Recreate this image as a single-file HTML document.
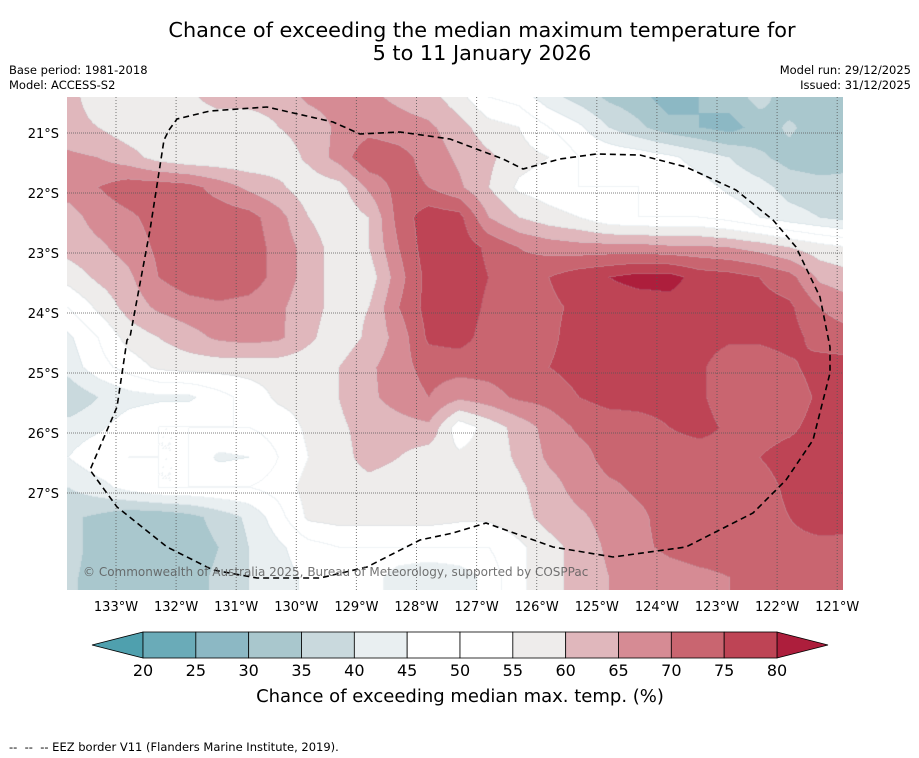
<!DOCTYPE html>
<html><head><meta charset="utf-8">
<style>
body{margin:0;background:#fff;width:919px;height:758px;overflow:hidden;position:relative;font-family:"DejaVu Sans","Liberation Sans",sans-serif;}
.t{position:absolute;white-space:nowrap;color:#000;}
</style></head><body>
<div class="t" style="left:0;width:964px;top:19px;text-align:center;font-size:20.8px;line-height:23px;">Chance of exceeding the median maximum temperature for<br>5 to 11 January 2026</div>
<div class="t" style="left:9px;top:63px;font-size:11.5px;line-height:15px;">Base period: 1981-2018<br>Model: ACCESS-S2</div>
<div class="t" style="right:8px;top:63px;font-size:11.5px;line-height:15px;text-align:right;">Model run: 29/12/2025<br>Issued: 31/12/2025</div>
<canvas id="map" width="776" height="493" style="position:absolute;left:67px;top:97px;"></canvas>
<svg id="ov" width="919" height="758" style="position:absolute;left:0;top:0;"></svg>
<div class="t" style="left:83px;top:565px;font-size:12px;color:rgba(90,90,90,0.85);">© Commonwealth of Australia 2025, Bureau of Meteorology, supported by COSPPac</div>
<div class="t" style="left:0;width:920px;top:686px;text-align:center;font-size:18px;">Chance of exceeding median max. temp. (%)</div>
<div class="t" style="left:9px;top:740px;font-size:11.5px;">--&nbsp; --&nbsp; -- EEZ border V11 (Flanders Marine Institute, 2019).</div>
<script>
const lons=[-133.8,-133.3,-132.8,-132.3,-131.8,-131.3,-130.8,-130.3,-129.8,-129.3,-128.8,-128.3,-127.8,-127.3,-126.8,-126.3,-125.8,-125.3,-124.8,-124.3,-123.8,-123.3,-122.8,-122.3,-121.8,-121.3,-120.8];
const lats=[-20.4,-20.9,-21.4,-21.9,-22.4,-22.9,-23.4,-23.9,-24.4,-24.9,-25.4,-25.9,-26.4,-26.9,-27.4,-27.9,-28.4,-28.9];
const values=[
[62,57,57,57,59,62,62,62,66,67,66,64,62,57,50,48,42,38,34,32,27,30,32,37,32,32,32],
[62,60,57,57,57,57,57,60,62,66,68,67,66,62,57,55,50,46,40,36,32,30,28,32,36,32,32],
[66,65,62,58,56,56,56,57,61,67,74,72,68,64,61,57,55,50,49,48,46,43,40,36,33,32,33],
[67,70,73,73,72,68,64,61,57,58,66,72,70,66,60,54,52,50,50,50,49,47,44,42,38,37,37],
[63,67,69,72,73,73,72,67,60,56,60,72,78,77,65,60,57,55,51,50,50,50,48,45,42,40,38],
[62,64,67,71,73,74,73,68,63,57,60,70,78,78,74,70,68,67,67,67,66,66,65,63,60,57,55],
[57,61,64,70,73,74,73,68,63,57,57,68,77,78,75,72,75,78,80,82,82,78,77,75,72,64,62],
[50,56,62,66,68,69,68,66,62,58,60,70,77,78,74,71,74,76,77,77,78,77,77,77,76,70,67],
[44,50,57,60,63,66,67,66,61,57,61,67,76,77,73,72,74,77,79,80,77,77,76,76,77,73,72],
[42,48,52,56,57,57,57,57,57,60,64,68,72,72,72,73,75,77,77,77,77,76,72,72,74,77,77],
[36,40,43,44,44,48,52,56,57,60,64,67,70,66,68,71,72,75,77,77,77,76,72,71,72,76,77],
[42,44,48,50,50,50,50,52,56,59,62,63,64,52,57,62,67,71,72,73,75,77,74,73,74,77,77],
[45,49,50,50,50,44,45,50,55,58,62,60,57,56,57,61,66,68,72,72,72,72,73,75,77,77,77],
[40,43,47,50,50,50,50,52,57,57,58,57,57,56,56,59,63,67,69,71,72,72,72,73,76,79,80],
[36,34,31,31,33,37,41,48,56,57,57,57,57,56,56,58,62,64,67,69,72,72,72,73,75,80,79],
[37,33,30,30,32,35,40,44,48,50,50,50,50,50,50,54,58,62,66,69,71,72,72,72,72,72,72],
[36,33,31,31,33,36,40,43,46,50,48,42,40,42,47,54,58,62,65,67,68,69,70,72,72,70,72],
[36,33,31,31,33,36,40,43,46,50,48,42,40,42,47,54,58,62,65,67,68,69,70,72,72,70,72]];
const levels=[20,25,30,35,40,45,50,55,60,65,70,75,80];
const bandColors=['#4fa0ae','#6aabb8','#8cb8c4','#a9c7cd','#c9d9dd','#e9eff1','#ffffff','#ffffff','#eeeceb','#e0b7bc','#d68b94','#c96570','#be4455','#ad1e3c'];
const lonTicks=[-133,-132,-131,-130,-129,-128,-127,-126,-125,-124,-123,-122,-121];
const latTicks=[-21,-22,-23,-24,-25,-26,-27];
const eezPath=[[169,130],[177,119],[210,111],[267,107],[333,122],[360,134],[400,132],[450,139],[503,159],[523,169],[560,159],[596,154],[640,155],[686,167],[736,190],[773,220],[796,247],[820,297],[830,347],[830,373],[813,440],[786,480],[753,513],[686,547],[613,557],[553,547],[486,523],[453,533],[420,540],[367,567],[320,578],[257,578],[213,570],[167,547],[117,507],[90,470],[117,407],[127,340],[130,337],[150,230],[164,140],[169,130]];

function xOf(lon){return 116+(lon+133)*60.1;}
function yOf(lat){return 133+(-lat-21)*60;}
function lonOf(x){return (x-116)/60.1-133;}
function latOf(y){return -((y-133)/60+21);}
function band(v){let b=0;for(let i=0;i<levels.length;i++){if(v>=levels[i])b=i+1;}return b;}
function sample(lon,lat){
  let fi=(lon-lons[0])/(lons[1]-lons[0]);let fj=(lat-lats[0])/(lats[1]-lats[0]);
  fi=Math.max(0,Math.min(lons.length-1.001,fi));fj=Math.max(0,Math.min(lats.length-1.001,fj));
  const i=Math.floor(fi),j=Math.floor(fj),a=fi-i,b=fj-j;
  return values[j][i]*(1-a)*(1-b)+values[j][i+1]*a*(1-b)+values[j+1][i]*(1-a)*b+values[j+1][i+1]*a*b;
}
function hex(h){return [parseInt(h.substr(1,2),16),parseInt(h.substr(3,2),16),parseInt(h.substr(5,2),16)];}
const rgb=bandColors.map(hex);
const cv=document.getElementById('map');const ctx=cv.getContext('2d');
const W=cv.width,H=cv.height;const img=ctx.createImageData(W,H);
const bands=new Int8Array(W*H);
for(let py=0;py<H;py++){for(let px=0;px<W;px++){bands[py*W+px]=band(sample(lonOf(px+67),latOf(py+97)));}}
for(let py=0;py<H;py++){for(let px=0;px<W;px++){
  const b=bands[py*W+px];let c=rgb[b];
  const r=px<W-1?bands[py*W+px+1]:b,d=py<H-1?bands[(py+1)*W+px]:b;
  let edge=(r!==b||d!==b);
  const k=(py*W+px)*4;
  if(edge){img.data[k]=c[0]*0.8+36;img.data[k+1]=c[1]*0.8+40;img.data[k+2]=c[2]*0.8+42;}
  else{img.data[k]=c[0];img.data[k+1]=c[1];img.data[k+2]=c[2];}
  img.data[k+3]=255;
}}
ctx.putImageData(img,0,0);

const NS='http://www.w3.org/2000/svg';const ov=document.getElementById('ov');
function mk(tag,attrs,parent){const e=document.createElementNS(NS,tag);for(const k in attrs)e.setAttribute(k,attrs[k]);(parent||ov).appendChild(e);return e;}
lonTicks.forEach(function(lon){
  const x=xOf(lon);
  const l=mk('line',{x1:x,y1:97,x2:x,y2:590,stroke:'#555','stroke-width':1,'stroke-dasharray':'1,2','stroke-opacity':0.8});
  
  
  const t=mk('text',{x:x,y:611,'text-anchor':'middle','font-size':13,fill:'#000','font-family':'DejaVu Sans, Liberation Sans, sans-serif'});
  t.textContent=Math.abs(lon)+'°W';
  
  
});
latTicks.forEach(function(lat){
  const y=yOf(lat);
  const l=mk('line',{x1:67,y1:y,x2:843,y2:y,stroke:'#555','stroke-width':1,'stroke-dasharray':'1,1','stroke-opacity':0.75});
  
  
  const t=mk('text',{x:59,y:y+5,'text-anchor':'end','font-size':13,fill:'#000','font-family':'DejaVu Sans, Liberation Sans, sans-serif'});
  t.textContent=Math.abs(lat)+'°S';
  
  
});
const eez=mk('polyline',{points:eezPath.map(p=>p.join(',')).join(' '),fill:'none',stroke:'#000','stroke-width':1.6,'stroke-dasharray':'6,4'});



const cbX0=143,cbX1=777,cbY=632,cbH=26;const seg=(cbX1-cbX0)/(levels.length-1);
const lt=mk('polygon',{points:(cbX0)+','+cbY+' '+(cbX0)+','+(cbY+cbH)+' 92,'+(cbY+cbH/2),fill:bandColors[0],stroke:'#000','stroke-width':0.8});


const rt=mk('polygon',{points:(cbX1)+','+cbY+' '+(cbX1)+','+(cbY+cbH)+' 828,'+(cbY+cbH/2),fill:bandColors[13],stroke:'#000','stroke-width':0.8});


for(let i=0;i<levels.length-1;i++){
  const r=mk('rect',{x:cbX0+i*seg,y:cbY,width:seg,height:cbH,fill:bandColors[i+1],stroke:'#000','stroke-width':0.8});
  
  
}
levels.forEach(function(v,i){
  const t=mk('text',{x:cbX0+i*seg,y:676,'text-anchor':'middle','font-size':16,fill:'#000','font-family':'DejaVu Sans, Liberation Sans, sans-serif'});
  t.textContent=v;
  
  
});
</script>
</body></html>
